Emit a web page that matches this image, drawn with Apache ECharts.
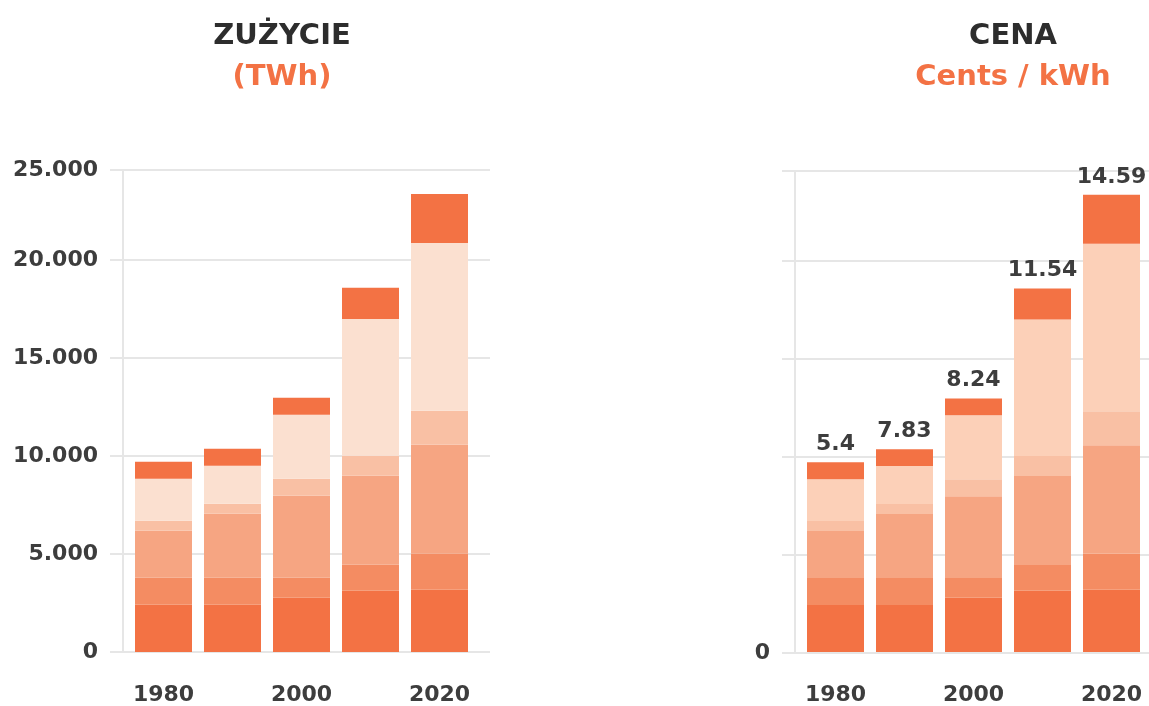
<!DOCTYPE html>
<html>
<head>
<meta charset="utf-8">
<script src="https://cdn.jsdelivr.net/npm/echarts@6/dist/echarts.min.js"></script>
<style>
  html, body { margin: 0; padding: 0; background: #ffffff; }
  #chart { width: 1149px; height: 706px; }
</style>
</head>
<body>
<div id="chart"></div>
<script>
// ---- data ----
const years = ['1980', '1990', '2000', '2010', '2020'];
const yTickLabels = ['0', '5.000', '10.000', '15.000', '20.000', '25.000'];
// stacked segments (TWh), bottom to top
const seg1 = [2410, 2410, 2770, 3130, 3180];
const seg2 = [1380, 1380, 1020, 1320, 1840];
const seg3 = [2400, 3270, 4180, 4550, 5560];
const seg4 = [510, 510, 870, 1020, 1730];
const seg5 = [2140, 1940, 3270, 6980, 8570];
const seg6 = [870, 860, 860, 1590, 2500];
// price (cents / kWh)
const prices = ['5.4', '7.83', '8.24', '11.54', '14.59'];

const segments = [seg1, seg2, seg3, seg4, seg5, seg6];
const colorsLeft  = ['#F37244', '#F48C62', '#F6A582', '#F9C0A4', '#FBE0D0', '#F37244'];
const colorsRight = ['#F37244', '#F48C62', '#F6A582', '#F9C0A4', '#FCD0B8', '#F37244'];

const FONT = 'DejaVu Sans';
const TXT = '#3d3d3d';
const GRID = '#e6e6e6';
const YMAX = 24600;

// background (gridline) axes
function yBgAxis(showAll, gridIdx) {
  return {
    type: 'value', gridIndex: gridIdx, min: 0, max: YMAX, interval: 5000,
    offset: -13,
    axisLine: { show: true, lineStyle: { color: GRID, width: 2 } },
    axisTick: { show: false },
    splitLine: { show: true, lineStyle: { color: GRID, width: 2 } },
    axisLabel: {
      margin: 25, color: TXT, fontFamily: FONT, fontWeight: 'bold', fontSize: 22,
      formatter: function (v, i) { return showAll ? yTickLabels[i] : (v === 0 ? '0' : ''); }
    }
  };
}
function yBarAxis(gridIdx) {
  return {
    type: 'value', gridIndex: gridIdx, min: 0, max: YMAX, interval: 5000, show: false,
    splitLine: { show: false }
  };
}
function xBgAxis(gridIdx) {
  return { type: 'value', gridIndex: gridIdx, min: 0, max: 1, show: false, splitLine: { show: false } };
}
function xBarAxis(gridIdx) {
  return {
    type: 'category', gridIndex: gridIdx, data: years, boundaryGap: true,
    axisLine: { show: false }, axisTick: { show: false }, splitLine: { show: false },
    axisLabel: {
      interval: 1, margin: 32, color: TXT, fontFamily: FONT,
      fontWeight: 'bold', fontSize: 22
    }
  };
}

const series = [];
segments.forEach(function (s, k) {
  series.push({
    type: 'bar', stack: 'left', xAxisIndex: 1, yAxisIndex: 1, barWidth: 57,
    itemStyle: { color: colorsLeft[k] },
    data: s, silent: true
  });
});
segments.forEach(function (s, k) {
  const isTop = k === segments.length - 1;
  series.push({
    type: 'bar', stack: 'right', xAxisIndex: 3, yAxisIndex: 3, barWidth: 57,
    itemStyle: { color: colorsRight[k] },
    data: s, silent: true,
    label: isTop ? {
      show: true, position: 'top', distance: 7, color: TXT, fontFamily: FONT,
      fontWeight: 'bold', fontSize: 22,
      formatter: function (p) { return prices[p.dataIndex]; }
    } : { show: false }
  });
});

const chart = echarts.init(document.getElementById('chart'), null, { renderer: 'canvas' });
chart.setOption({
  animation: false,
  backgroundColor: '#ffffff',
  title: [
    { text: 'ZUŻYCIE', subtext: '(TWh)', left: 277, top: 17, textAlign: 'center', itemGap: 12,
      textStyle: { fontFamily: FONT, fontWeight: 'bold', fontSize: 29, color: '#2d2d2d' },
      subtextStyle: { fontFamily: FONT, fontWeight: 'bold', fontSize: 29, color: '#F37244' } },
    { text: 'CENA', subtext: 'Cents / kWh', left: 1008, top: 17, textAlign: 'center', itemGap: 12,
      textStyle: { fontFamily: FONT, fontWeight: 'bold', fontSize: 29, color: '#2d2d2d' },
      subtextStyle: { fontFamily: FONT, fontWeight: 'bold', fontSize: 29, color: '#F37244' } }
  ],
  grid: [
    { left: 110, width: 380, top: 170, bottom: 54 },
    { left: 129, width: 345, top: 170, bottom: 54 },
    { left: 782, right: 0, top: 171, bottom: 53 },
    { left: 801, width: 345, top: 171, bottom: 53 }
  ],
  xAxis: [xBgAxis(0), xBarAxis(1), xBgAxis(2), xBarAxis(3)],
  yAxis: [yBgAxis(true, 0), yBarAxis(1), yBgAxis(false, 2), yBarAxis(3)],
  series: series
});
</script>
</body>
</html>
